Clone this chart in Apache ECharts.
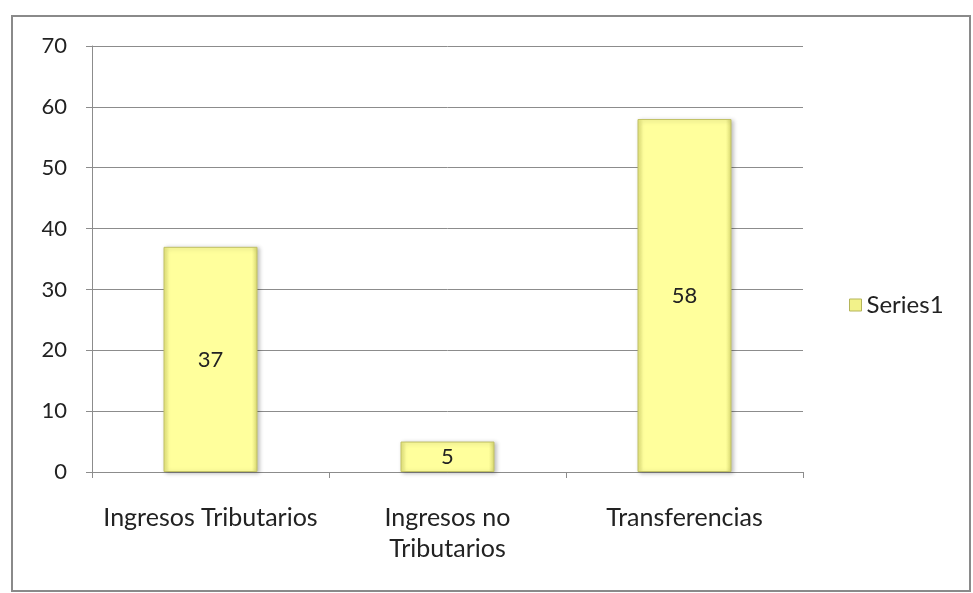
<!DOCTYPE html>
<html>
<head>
<meta charset="utf-8">
<script src="https://cdn.jsdelivr.net/npm/echarts@6/dist/echarts.min.js"></script>
<style>
html,body{margin:0;padding:0;background:#fff;}
#main{width:973px;height:593px;}
</style>
</head>
<body>
<div id="main"></div>
<script>
var categories = ['Ingresos Tributarios', 'Ingresos no\nTributarios', 'Transferencias'];
var values = [37, 5, 58];
var seriesName = 'Series1';

var FONT = 'Lato';
var barFill = new echarts.graphic.LinearGradient(0, 0, 1, 0, [
	{offset: 0, color: '#e4e47a'},
	{offset: 0.06, color: '#ffff9c'},
	{offset: 0.94, color: '#ffff9c'},
	{offset: 1, color: '#d8d870'}
]);

var myChart = echarts.init(document.getElementById('main'));
myChart.setOption({
	backgroundColor: '#fff',
	animation: false,
	graphic: [{
		type: 'rect',
		shape: {x: 12, y: 16, width: 958, height: 575},
		style: {fill: 'none', stroke: '#8a8a8a', lineWidth: 2},
		silent: true
	}],
	grid: {left: 92, right: 170, top: 46, bottom: 121},
	legend: {
		orient: 'vertical',
		left: 844,
		top: 288,
		itemWidth: 12,
		itemHeight: 12,
		itemGap: 6,
		textStyle: {fontFamily: FONT, fontSize: 24, color: '#222'},
		data: [{name: seriesName, icon: 'rect', itemStyle: {color: '#f2f28a', borderColor: '#b5b55a', borderWidth: 1}}]
	},
	xAxis: {
		type: 'category',
		data: categories,
		axisLine: {lineStyle: {color: '#8c8c8c', width: 1}},
		axisTick: {show: true, length: 6, lineStyle: {color: '#8c8c8c'}},
		axisLabel: {
			interval: 0,
			hideOverlap: false,
			margin: 30,
			fontFamily: FONT,
			fontSize: 25,
			color: '#222',
			lineHeight: 31
		}
	},
	yAxis: {
		type: 'value',
		min: 0,
		max: 70,
		interval: 10,
		axisLine: {show: true, lineStyle: {color: '#8c8c8c', width: 1}},
		axisTick: {show: true, length: 6, lineStyle: {color: '#8c8c8c'}},
		splitLine: {lineStyle: {color: '#8c8c8c', width: 1}},
		axisLabel: {margin: 25, fontFamily: FONT, fontSize: 22, color: '#222'}
	},
	series: [{
		name: seriesName,
		type: 'bar',
		data: values,
		barWidth: 94,
		itemStyle: {
			color: barFill,
			borderColor: '#c2c266',
			borderWidth: 1,
			shadowColor: 'rgba(0,0,0,0.25)',
			shadowBlur: 4,
			shadowOffsetX: 2,
			shadowOffsetY: 1
		},
		label: {
			show: true,
			position: 'inside',
			fontFamily: FONT,
			fontSize: 22,
			color: '#222'
		}
	}]
});
</script>
</body>
</html>
